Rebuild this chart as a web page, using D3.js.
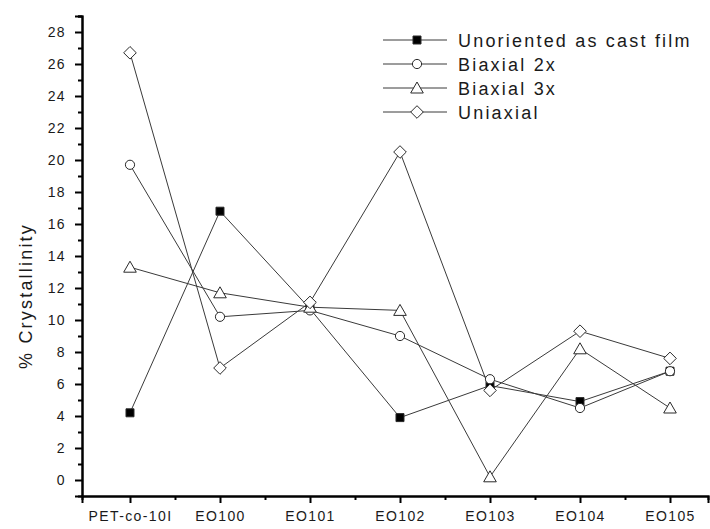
<!DOCTYPE html>
<html>
<head>
<meta charset="utf-8">
<script src="https://cdn.jsdelivr.net/npm/d3@7"></script>
<style>
  html, body { margin: 0; padding: 0; background: #fff; }
  svg text { font-family: Arial, "Liberation Sans", sans-serif; fill: #1a1a1a; }
</style>
</head>
<body>
<svg id="chart" width="710" height="529"></svg>
<script>
// Samples along the x axis
const categories = ["PET-co-10I", "EO100", "EO101", "EO102", "EO103", "EO104", "EO105"];

// % crystallinity for each processing condition
const unoriented = [4.2, 16.8, 10.7, 3.9, 5.9, 4.9, 6.8];
const biaxial2x  = [19.7, 10.2, 10.6, 9.0, 6.3, 4.5, 6.8];
const biaxial3x  = [13.3, 11.7, 10.8, 10.6, 0.2, 8.2, 4.5];
const uniaxial   = [26.7, 7.0, 11.1, 20.5, 5.6, 9.3, 7.6];

const seriesNames = ["Unoriented as cast film", "Biaxial 2x", "Biaxial 3x", "Uniaxial"];
const seriesValues = [unoriented, biaxial2x, biaxial3x, uniaxial];
const seriesSymbols = ["square", "circle", "triangle", "diamond"];

const yTicks = d3.range(0, 29, 2);
const yMinorTicks = d3.range(1, 30, 2);

const svg = d3.select("#chart");

const x = d3.scaleLinear().domain([-0.5333, 6.4222]).range([82, 708]);
const y = d3.scaleLinear().domain([-1, 29]).range([496, 16]);

const lineColor = "#3a3a3a";
const markColor = "#2a2a2a";

// marker path generator, centred on 0,0
function symbolPath(kind) {
  switch (kind) {
    case "square":   return "M-4,-4H4V4H-4Z";
    case "circle":   return "M-4.6,0A4.6,4.6 0 1,0 4.6,0A4.6,4.6 0 1,0 -4.6,0Z";
    case "triangle": return "M0,-6L6.3,5H-6.3Z";
    case "diamond":  return "M0,-6.3L6.3,0L0,6.3L-6.3,0Z";
  }
}

// axes
const yAxis = d3.axisLeft(y).tickValues(yTicks).tickSize(7).tickPadding(9).tickFormat(d3.format("d"));
const yMinor = d3.axisLeft(y).tickValues(yMinorTicks).tickSize(4).tickFormat("");
const xAxis = d3.axisBottom(x).tickValues(d3.range(categories.length)).tickSize(7).tickPadding(8)
  .tickFormat(i => categories[i]);
const xMinor = d3.axisBottom(x).tickValues(d3.range(0.5, 6.5, 1)).tickSize(4).tickFormat("");

function styleAxis(g) {
  g.select(".domain").attr("stroke", "#000").attr("stroke-width", 2);
  g.selectAll(".tick line").attr("stroke", "#000").attr("stroke-width", 2);
  g.selectAll("text").attr("font-size", 14).style("letter-spacing", "1.4px").attr("fill", "#1a1a1a");
}

svg.append("g").attr("transform", "translate(82,0)").call(yMinor).call(styleAxis);
svg.append("g").attr("transform", "translate(82,0)").call(yAxis).call(styleAxis);
svg.append("g").attr("transform", "translate(0,496)").call(xMinor).call(styleAxis);
svg.append("g").attr("transform", "translate(0,496)").call(xAxis).call(styleAxis);

// y axis title
svg.append("text")
  .attr("transform", `translate(32,${y(11.5)}) rotate(-90)`)
  .attr("text-anchor", "middle")
  .attr("font-size", 18)
  .style("letter-spacing", "2.2px")
  .text("% Crystallinity");

// series lines, then markers on top
const line = d3.line().x((d, i) => x(i)).y(d => y(d));
seriesValues.forEach(vals => {
  svg.append("path").datum(vals)
    .attr("d", line)
    .attr("fill", "none")
    .attr("stroke", lineColor)
    .attr("stroke-width", 1);
});
seriesValues.forEach((vals, s) => {
  svg.append("g").selectAll("path").data(vals).join("path")
    .attr("transform", (d, i) => `translate(${x(i)},${y(d)})`)
    .attr("d", symbolPath(seriesSymbols[s]))
    .attr("fill", seriesSymbols[s] === "square" ? "#000" : "#fff")
    .attr("stroke", markColor)
    .attr("stroke-width", 1);
});

// legend
const legend = svg.append("g");
seriesNames.forEach((name, s) => {
  const ly = 40 + s * 24;
  legend.append("line").attr("x1", 383).attr("x2", 447).attr("y1", ly).attr("y2", ly)
    .attr("stroke", lineColor).attr("stroke-width", 1);
  legend.append("path").attr("transform", `translate(417,${ly})`)
    .attr("d", symbolPath(seriesSymbols[s]))
    .attr("fill", seriesSymbols[s] === "square" ? "#000" : "#fff")
    .attr("stroke", markColor).attr("stroke-width", 1);
  legend.append("text").attr("x", 458).attr("y", ly + 6.5)
    .attr("font-size", 18)
    .style("letter-spacing", "2.2px")
    .text(name);
});
</script>
</body>
</html>
